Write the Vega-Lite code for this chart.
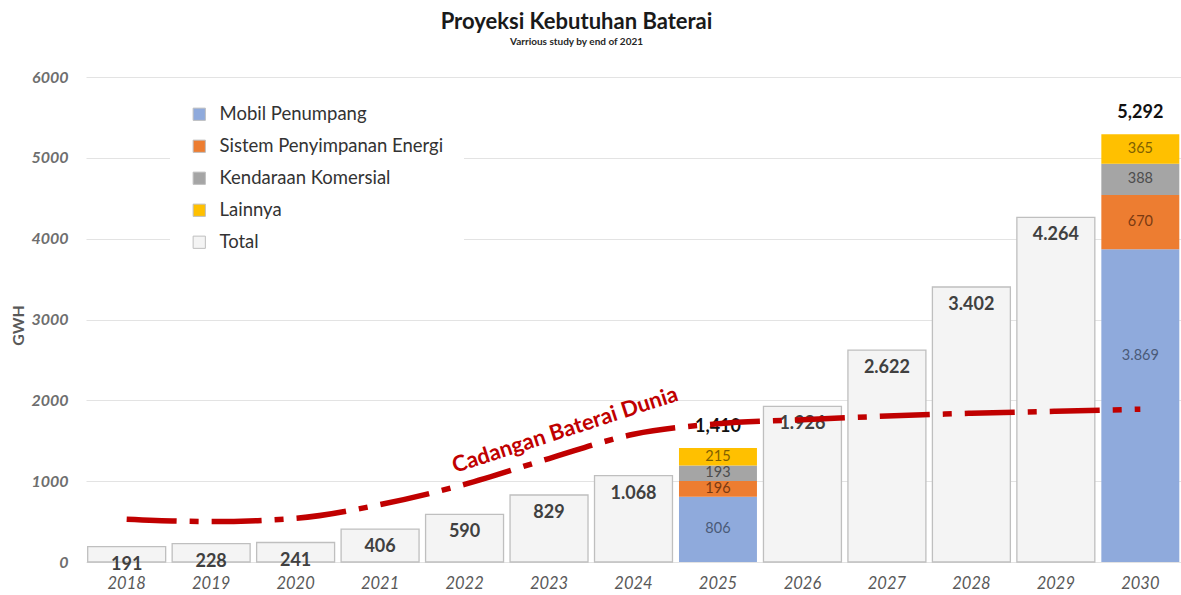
{
  "$schema": "https://vega.github.io/schema/vega-lite/v6.json",
  "width": 1095,
  "height": 485,
  "autosize": {"type": "none"},
  "padding": {"left": 86, "top": 77, "right": 0, "bottom": 33},
  "background": "white",
  "title": {
    "text": "Proyeksi Kebutuhan Baterai",
    "subtitle": "Varrious study by end of 2021",
    "anchor": "middle",
    "dx": -57,
    "offset": 21,
    "font": "Lato",
    "fontSize": 22,
    "fontWeight": "bold",
    "color": "#1a1a1a",
    "subtitleFont": "Lato",
    "subtitleFontSize": 10,
    "subtitleFontWeight": "bold",
    "subtitleColor": "#262626",
    "subtitlePadding": 3
  },
  "config": {"view": {"stroke": null}, "font": "Lato"},
  "datasets": {
    "totals": [
      {"year": "2018", "total": 191, "label": "191", "series": "Total"},
      {"year": "2019", "total": 228, "label": "228", "series": "Total"},
      {"year": "2020", "total": 241, "label": "241", "series": "Total"},
      {"year": "2021", "total": 406, "label": "406", "series": "Total"},
      {"year": "2022", "total": 590, "label": "590", "series": "Total"},
      {"year": "2023", "total": 829, "label": "829", "series": "Total"},
      {"year": "2024", "total": 1068, "label": "1.068", "series": "Total"},
      {"year": "2026", "total": 1926, "label": "1.926", "series": "Total"},
      {"year": "2027", "total": 2622, "label": "2.622", "series": "Total"},
      {"year": "2028", "total": 3402, "label": "3.402", "series": "Total"},
      {"year": "2029", "total": 4264, "label": "4.264", "series": "Total"}
    ],
    "segments": [
      {"year": "2025", "series": "Mobil Penumpang", "value": 806, "label": "806", "ord": 1},
      {"year": "2025", "series": "Sistem Penyimpanan Energi", "value": 196, "label": "196", "ord": 2},
      {"year": "2025", "series": "Kendaraan Komersial", "value": 193, "label": "193", "ord": 3},
      {"year": "2025", "series": "Lainnya", "value": 215, "label": "215", "ord": 4},
      {"year": "2030", "series": "Mobil Penumpang", "value": 3869, "label": "3.869", "ord": 1},
      {"year": "2030", "series": "Sistem Penyimpanan Energi", "value": 670, "label": "670", "ord": 2},
      {"year": "2030", "series": "Kendaraan Komersial", "value": 388, "label": "388", "ord": 3},
      {"year": "2030", "series": "Lainnya", "value": 365, "label": "365", "ord": 4}
    ],
    "stackTotals": [
      {"year": "2025", "total": 1410, "label": "1,410"},
      {"year": "2030", "total": 5292, "label": "5,292"}
    ],
    "reserve": [
      {"year": "2018", "v": 530},
      {"year": "2019", "v": 500},
      {"year": "2020", "v": 540},
      {"year": "2021", "v": 710},
      {"year": "2022", "v": 960},
      {"year": "2023", "v": 1280},
      {"year": "2024", "v": 1580},
      {"year": "2025", "v": 1710},
      {"year": "2026", "v": 1760},
      {"year": "2027", "v": 1805},
      {"year": "2028", "v": 1840},
      {"year": "2029", "v": 1865},
      {"year": "2030", "v": 1890}
    ]
  },
  "encoding": {
    "x": {
      "field": "year",
      "type": "ordinal",
      "scale": {
        "domain": ["2018","2019","2020","2021","2022","2023","2024","2025","2026","2027","2028","2029","2030"],
        "paddingInner": 0.077,
        "paddingOuter": 0.02
      },
      "axis": {
        "title": null,
        "labelAngle": 0,
        "domain": false,
        "ticks": false,
        "grid": false,
        "labelPadding": 13,
        "labelFontSize": 16.5,
        "labelFontStyle": "italic",
        "labelColor": "#595959",
        "labelFont": "Lato"
      }
    }
  },
  "layer": [
    {
      "data": {"name": "totals"},
      "mark": {"type": "bar", "stroke": "#bfbfbf", "strokeWidth": 1.3},
      "encoding": {
        "y": {
          "field": "total",
          "type": "quantitative",
          "scale": {"domain": [0, 6000], "nice": false},
          "axis": {
            "title": "GWH",
            "titleX": -68,
            "titleY": 248,
            "titleAngle": -90,
            "titleAlign": "center",
            "titleBaseline": "middle",
            "titleFontSize": 16,
            "titleFontWeight": "bold",
            "titleColor": "#595959",
            "values": [0, 1000, 2000, 3000, 4000, 5000, 6000],
            "format": "d",
            "domain": false,
            "ticks": false,
            "labelPadding": 18,
            "labelFontSize": 16,
            "labelFontStyle": "italic",
            "labelFontWeight": "bold",
            "labelColor": "#6e6e6e",
            "gridColor": "#e3e3e3",
            "gridWidth": 1
          }
        },
        "color": {
          "field": "series",
          "type": "nominal",
          "scale": {
            "domain": ["Mobil Penumpang", "Sistem Penyimpanan Energi", "Kendaraan Komersial", "Lainnya", "Total"],
            "range": ["#8faadc", "#ed7d31", "#a5a5a5", "#ffc000", "#f4f4f4"]
          },
          "legend": {
            "title": null,
            "orient": "none",
            "legendX": 84,
            "legendY": 8,
            "padding": 20,
            "fillColor": "white",
            "symbolType": "square",
            "symbolSize": 150,
            "symbolStrokeWidth": 1,
            "labelFontSize": 18.5,
            "labelColor": "#333333",
            "labelOffset": 11,
            "rowPadding": 13,
            "labelLimit": 400,
            "encode": {
              "labels": {
                "update": {
                  "fontSize": {"signal": "datum.label === 'Total' ? 21 : 18.5"},
                  "fill": {"signal": "datum.label === 'Total' ? '#7f7f7f' : '#333333'"}
                }
              },
              "symbols": {
                "update": {
                  "stroke": {"signal": "datum.label === 'Total' ? '#8c8c8c' : 'transparent'"},
                  "strokeWidth": {"value": 1}
                }
              }
            }
          }
        }
      }
    },
    {
      "data": {"name": "segments"},
      "mark": {"type": "bar"},
      "encoding": {
        "y": {"field": "value", "type": "quantitative", "stack": "zero"},
        "order": {"field": "ord", "type": "quantitative"},
        "color": {"field": "series", "type": "nominal"}
      }
    },
    {
      "data": {"name": "segments"},
      "transform": [
        {"stack": "value", "groupby": ["year"], "sort": [{"field": "ord", "order": "ascending"}], "as": ["y0", "y1"]},
        {"calculate": "datum.value > 3000 ? datum.y0 + datum.value * 0.66 : (datum.y0 + datum.y1) / 2", "as": "mid"}
      ],
      "mark": {"type": "text", "fontSize": 14.5, "baseline": "middle", "align": "center"},
      "encoding": {
        "y": {"field": "mid", "type": "quantitative"},
        "text": {"field": "label"},
        "fill": {
          "field": "series",
          "type": "nominal",
          "scale": {
            "domain": ["Mobil Penumpang", "Sistem Penyimpanan Energi", "Kendaraan Komersial", "Lainnya"],
            "range": ["#4a5a78", "#7a3a12", "#4d4d4d", "#7f6000"]
          },
          "legend": null
        }
      }
    },
    {
      "data": {"name": "totals"},
      "mark": {"type": "text", "fontSize": 18, "fontWeight": "bold", "color": "#404040", "dy": 18, "baseline": "middle", "align": "center"},
      "encoding": {
        "y": {"field": "total", "type": "quantitative"},
        "text": {"field": "label"}
      }
    },
    {
      "data": {"name": "stackTotals"},
      "mark": {"type": "text", "fontSize": 18, "fontWeight": "bold", "color": "#111111", "dy": -21, "baseline": "middle", "align": "center"},
      "encoding": {
        "y": {"field": "total", "type": "quantitative"},
        "text": {"field": "label"}
      }
    },
    {
      "data": {"name": "reserve"},
      "mark": {"type": "line", "color": "#c00000", "strokeWidth": 5.5, "strokeDash": [50, 13, 9, 13], "interpolate": "monotone"},
      "encoding": {
        "y": {"field": "v", "type": "quantitative"}
      }
    },
    {
      "data": {"values": [{}]},
      "mark": {"type": "text", "color": "#c00000", "fontSize": 22, "fontWeight": "bold", "angle": 342, "xOffset": 16, "align": "center", "baseline": "middle"},
      "encoding": {
        "x": {"datum": "2023"},
        "y": {"datum": 1633},
        "text": {"value": "Cadangan Baterai Dunia"}
      }
    }
  ]
}
